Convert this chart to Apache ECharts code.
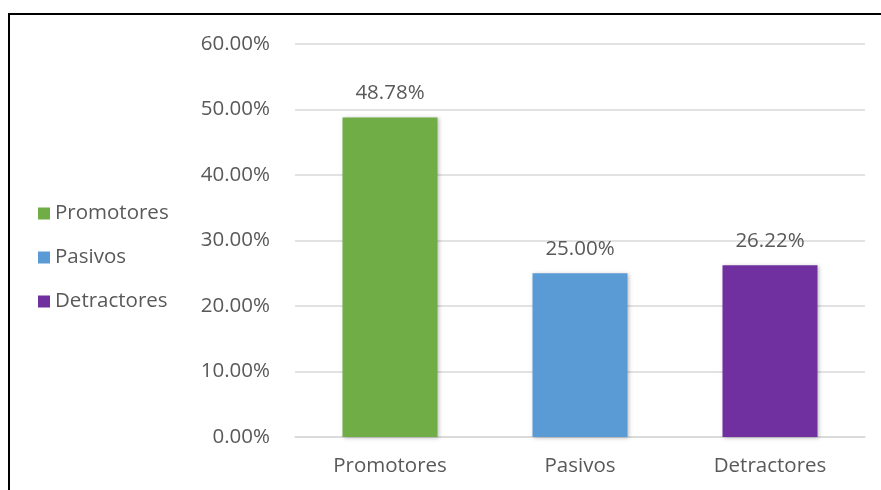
<!DOCTYPE html>
<html>
<head>
<meta charset="utf-8">
<style>
  html, body { margin: 0; padding: 0; background: #fff; }
  #frame { position: absolute; left: 8px; top: 13px; width: 880px; height: 490px;
           border-left: 2px solid #000; border-top: 2px solid #000; box-sizing: border-box; }
  #chart { position: absolute; left: 0; top: 0; width: 881px; height: 490px; }
</style>
<script src="https://cdn.jsdelivr.net/npm/echarts@6/dist/echarts.min.js"></script>
</head>
<body>
<div id="frame"></div>
<div id="chart"></div>
<script>
// NPS breakdown by respondent group (percent)
const categories = ['Promotores', 'Pasivos', 'Detractores'];
const values = [48.78, 25.00, 26.22];
const colors = ['#70AD47', '#5B9BD5', '#7030A0'];
const yTicks = { min: 0, max: 60, interval: 10 };

const FONT = '"Open Sans", "Noto Sans", sans-serif';
const TEXT = '#595959';
const SIZE = 20.5;

const chart = echarts.init(document.getElementById('chart'), null, { renderer: 'canvas' });

// One series per category so each gets a legend entry; bars stack onto the
// same slot of the category axis so they stay centred.
const series = categories.map((name, i) => ({
  name,
  type: 'bar',
  stack: 'all',
  barWidth: '50%',
  data: categories.map((c, j) => (j === i ? values[i] : null)),
  itemStyle: {
    color: colors[i],
    shadowColor: 'rgba(0,0,0,0.25)',
    shadowBlur: 4,
    shadowOffsetX: 1,
    shadowOffsetY: 1
  },
  label: {
    show: true,
    position: 'top',
    distance: 14,
    color: TEXT,
    fontFamily: FONT,
    fontSize: SIZE,
    formatter: p => (p.value == null ? '' : p.value.toFixed(2) + '%')
  }
}));

chart.setOption({
  animation: false,
  legend: {
    orient: 'vertical',
    left: 38,
    top: 203,
    padding: 0,
    itemWidth: 12,
    itemHeight: 12,
    itemGap: 23,
    icon: 'rect',
    textStyle: { color: TEXT, fontFamily: FONT, fontSize: SIZE, padding: [0, 0, 0, 0] },
    data: categories
  },
  grid: { left: 295, right: 16, top: 44, bottom: 53, containLabel: false },
  xAxis: {
    type: 'category',
    data: categories,
    axisLine: { lineStyle: { color: '#D9D9D9', width: 1.5 } },
    axisTick: { show: false },
    axisLabel: { color: TEXT, fontFamily: FONT, fontSize: SIZE, margin: 19 }
  },
  yAxis: {
    type: 'value',
    min: yTicks.min,
    max: yTicks.max,
    interval: yTicks.interval,
    axisLine: { show: false },
    axisTick: { show: false },
    splitLine: { lineStyle: { color: '#D9D9D9', width: 1.5 } },
    axisLabel: {
      color: TEXT, fontFamily: FONT, fontSize: SIZE, margin: 25,
      formatter: v => v.toFixed(2) + '%'
    }
  },
  series
});
</script>
</body>
</html>
